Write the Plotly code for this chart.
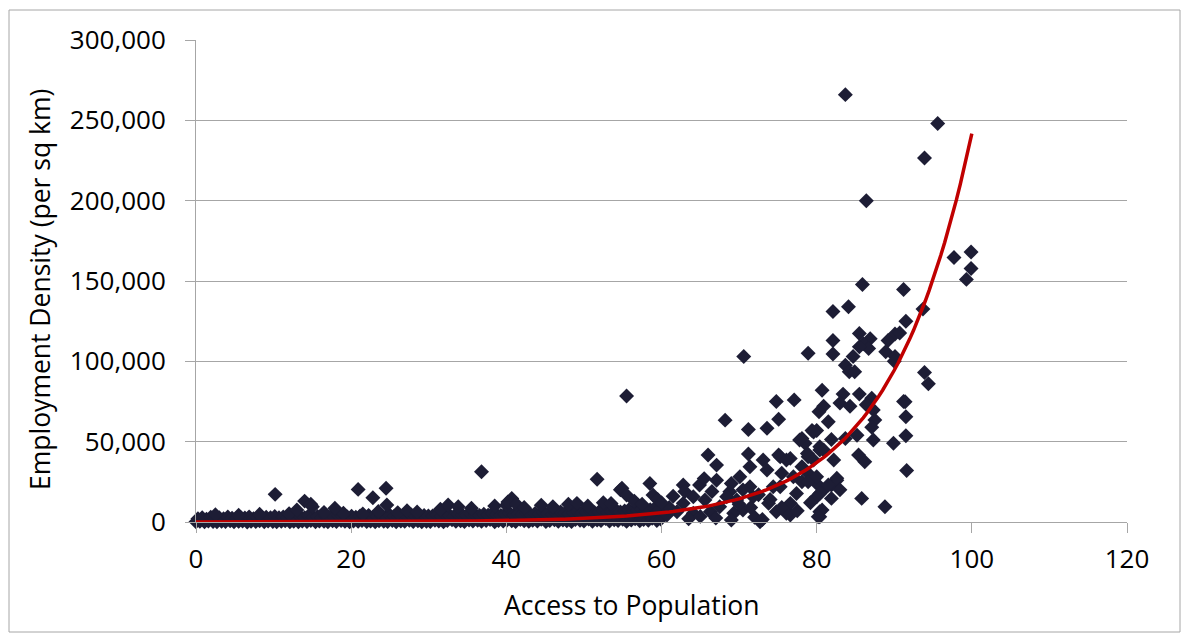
import plotly.graph_objects as go
import numpy as np

# ---------------- data ----------------
# dense band of points near zero, lower row
band_low_x = [0, 0.5, 1.1, 1.6, 2.2, 2.7, 3.3, 3.8, 4.4, 4.9, 5.5, 6.0, 6.6, 7.1, 7.7, 8.2, 8.8, 9.3, 9.9,
              10.4, 11.0, 11.5, 12.1, 12.6, 13.2, 13.7, 14.3, 14.8, 15.4, 15.9, 16.5, 17.0, 17.6, 18.1, 18.7,
              19.2, 19.8, 20.3, 20.9, 21.4, 22.0, 22.5, 23.1, 23.6, 24.2, 24.7, 25.3, 25.8, 26.4, 26.9, 27.5,
              28.0, 28.6, 29.1, 29.7,
              30.2, 30.8, 31.3, 31.9, 32.4, 33.0, 33.5, 34.1, 34.6, 35.2, 35.7, 36.3, 36.8, 37.4, 37.9, 38.5,
              39.0, 39.6, 40.1, 40.7, 41.2, 41.8, 42.3, 42.9, 43.4, 44.0, 44.5, 45.1, 45.6, 46.2, 46.7, 47.3,
              47.8, 48.4, 48.9, 49.5, 50.0, 50.6, 51.1, 51.7, 52.2, 52.8, 53.3, 53.9, 54.4, 55.0, 55.5, 56.1,
              56.6, 57.2, 57.7, 58.3, 58.8, 59.4, 59.9]
band_low_y = [150, 420, 80, 610, 300, 90, 520, 240, 700, 130, 380, 560, 60, 450, 290, 820, 170, 640, 330,
              90, 510, 760, 220, 430, 140, 680, 350, 910, 200, 560, 410, 120, 730, 290, 850, 460, 180, 620,
              390, 980, 250, 540, 110, 770, 430, 320, 880, 160, 600, 470, 1020, 280, 690, 140, 520,
              340, 1150, 620, 180, 900, 1420, 470, 760, 260, 1300, 580, 1050, 390, 860, 1600, 210, 980, 540,
              1250, 720, 310, 1480, 830, 450, 1100, 660, 1750, 290, 940, 1380, 510, 1200, 800, 360, 1550,
              1020, 620, 1850, 430, 1300, 950, 2100, 560, 1450, 870, 1700, 380, 1250, 2000, 740, 1600, 1100,
              2300, 900, 1800]

# dense band, upper row
band_high_x = [0.25, 0.8, 1.35, 1.9, 2.45, 3.0, 3.55, 4.1, 4.65, 5.2, 5.75, 6.3, 6.85, 7.4, 7.95, 8.5, 9.05,
               9.6, 10.15, 10.7, 11.25, 11.8, 12.35, 12.9, 13.45, 14.0, 14.55, 15.1, 15.65, 16.2, 16.75, 17.3,
               17.85, 18.4, 18.95, 19.5, 20.05, 20.6, 21.15, 21.7, 22.25, 22.8, 23.35, 23.9, 24.45, 25.0,
               25.55, 26.1, 26.65, 27.2, 27.75, 28.3, 28.85, 29.4, 29.95,
               30.5, 31.05, 31.6, 32.15, 32.7, 33.25, 33.8, 34.35, 34.9, 35.45, 36.0, 36.55, 37.1, 37.65,
               38.2, 38.75, 39.3, 39.85, 40.4, 40.95, 41.5, 42.05, 42.6, 43.15, 43.7, 44.25, 44.8, 45.35,
               45.9, 46.45, 47.0, 47.55, 48.1, 48.65, 49.2, 49.75, 50.3, 50.85, 51.4, 51.95, 52.5, 53.05,
               53.6, 54.15, 54.7, 55.25, 55.8, 56.35, 56.9, 57.45, 58.0, 58.55, 59.1, 59.65]
band_high_y = [2000, 2600, 1800, 2900, 2200, 2700, 2000, 3100, 2400, 2200, 2800, 2500, 3200, 2100, 2700,
               2300, 3000, 2600, 3400, 2700, 3100, 2500, 3600, 2800, 3300, 2600, 4000, 3000, 3400, 2700,
               3700, 3200, 2900, 3900, 3400, 3100, 3600, 2900, 3800, 3300, 4100, 3000, 3500, 3800, 3200,
               4200, 3600, 3300, 3900, 3500, 4400, 3700, 3400, 4000, 3800,
               3800, 4400, 3500, 4700, 4100, 3600, 4900, 4300, 3900, 5200, 4500, 4000, 4800, 4200, 5400,
               4600, 4100, 5000, 5600, 4400, 5100, 4700, 5800, 4500, 5300, 4900, 6000, 5200, 4700, 5600,
               6200, 5400, 5000, 5900, 6600, 5500, 6100, 6800, 5700, 6400, 7000, 5900, 6600, 7400, 6200,
               6900, 7600, 6500, 7200, 8000, 6800, 7600, 8400, 7400]

# scattered points
spread_x = [2.5, 5.5, 8.2, 12.0, 16.5, 19.0, 21.5, 23.5, 26.0, 27.2, 28.5,
            10.2, 14.0, 14.8, 15.0, 20.9, 22.8, 24.5, 17.9, 24.6, 13.0,
            31.5, 32.5, 33.8, 35.5, 36.8, 38.5, 40.0, 40.7, 40.2, 41.3, 42.3, 44.5, 46.0, 48.0, 49.1,
            50.5, 51.7, 52.5, 53.5, 54.7, 54.9, 55.5, 55.5, 56.5, 57.5, 58.5, 58.9, 59.5,
            70.6, 74.8, 77.1, 68.2, 75.1, 71.2, 73.6, 80.0, 78.1, 66.0, 67.1, 67.1, 62.8, 64.9, 71.2,
            73.1, 75.1, 76.6, 71.4, 73.6, 70.1, 68.8, 71.4, 75.5, 78.9, 78.9, 80.4, 80.9, 80.4, 76.6,
            74.8, 72.7, 70.5, 69.3, 67.5, 65.6, 64.1, 62.8, 62.0, 60.7, 68.4, 77.4, 76.6, 73.8, 71.8,
            69.7, 66.3, 64.1, 78.1, 80.0, 74.4, 78.5,
            75.3, 77.8, 79.4, 78.8, 76.1, 78.1, 80.4, 75.3, 77.0, 78.9, 80.0, 76.1, 80.4, 81.9, 82.6,
            72.0, 73.0, 71.5, 63.5, 61.0, 65.0, 67.0, 69.0, 70.0, 72.5, 74.0, 75.5, 77.5, 79.2, 60.0,
            61.5, 63.0, 65.5, 66.5, 69.0, 70.5,
            97.7, 99.9, 99.9, 99.3, 85.9, 91.2, 82.1, 84.1, 93.7, 91.5, 85.5, 86.9, 86.0, 86.7, 85.5,
            82.1, 82.1, 90.1, 89.2, 88.9, 90.1, 78.9, 84.7, 83.7, 84.2, 84.9, 93.9, 94.4, 80.7, 83.4,
            85.5, 87.1, 91.2, 80.9, 83.0, 84.3, 86.4, 80.3, 87.3, 91.5, 81.5, 87.5, 87.1, 79.6, 81.9,
            83.7, 85.2, 87.3, 89.9, 91.5, 80.9, 82.2, 85.4, 86.2, 91.6, 80.0, 82.6, 81.5, 83.0, 80.4,
            85.8, 88.8, 81.9, 80.7, 80.2, 79.6,
            83.7, 95.6, 93.9, 86.4, 90.7, 91.4, 90.0]
spread_y = [4500, 4200, 4800, 5200, 6000, 5500, 5000, 6500, 5800, 7000, 6200,
            17200, 13000, 11000, 9500, 20300, 15100, 21000, 8500, 10600, 7500,
            8000, 10600, 9500, 8500, 31300, 10000, 10500, 14700, 12500, 11000, 9000, 10500, 9500, 11000, 11600,
            10000, 26600, 12000, 11500, 20000, 21000, 16800, 78400, 13000, 11000, 24000, 16800, 14000,
            103000, 75000, 76000, 63400, 64000, 57600, 58300, 57000, 52000, 41700, 35400, 26000, 23000,
            23000, 42300, 38600, 41700, 39600, 34400, 32300, 28200, 18800, 22000, 30300, 40600, 30300,
            46800, 20000, 6400, 4400, 6400, 200, 7500, 5400, 9500, 13700, 15700, 11600, 6400, 4400, 15700,
            17800, 11600, 11600, 15700, 13700, 6400, 5400, 25000, 24000, 22000, 49000,
            40600, 51000, 57000, 42700, 38600, 34400, 44800, 22000, 28200, 25000, 15700, 5400, 3300, 23000,
            26000,
            3000, 1500, 9000, 2000, 9000, 3500, 2500, 1200, 11000, 17000, 14000, 9000, 7000, 12000, 12000,
            16000, 19000, 27000, 19000, 24000, 20000,
            164600, 168000, 157800, 151000, 147800, 144700, 131000, 134000, 132500, 125000, 117300, 114000,
            111000, 108000, 109000, 113000, 104500, 117000, 113000, 106000, 103000, 105000, 103000, 97600,
            93500, 93500, 93000, 86000, 82000, 79600, 79600, 77000, 75000, 72000, 74000, 72000, 73000,
            68600, 69700, 65500, 62400, 63500, 59000, 56000, 51400, 52000, 54000, 51000, 49000, 53700,
            44800, 38600, 41700, 37500, 32000, 28200, 27200, 23000, 20000, 17800, 14700, 9500, 14700,
            7500, 3300, 38600,
            266000, 248000, 226600, 200000, 117600, 74800, 100000]

# exponential trend line y = A * exp(B * x), coefficients
TREND_A = 20.0
TREND_B = 0.094
TREND_X_MIN = 0
TREND_X_MAX = 100

x_ticks = [0, 20, 40, 60, 80, 100, 120]
y_ticks = [0, 50000, 100000, 150000, 200000, 250000, 300000]

# ---------------- figure ----------------
all_x = band_low_x + band_high_x + spread_x
all_y = band_low_y + band_high_y + spread_y

trend_x = np.linspace(TREND_X_MIN, TREND_X_MAX, 201)
trend_y = TREND_A * np.exp(TREND_B * trend_x)

FONT = "Open Sans"
FS = 26
FT = 26.5
GRID = "#a6a6a6"

fig = go.Figure()
fig.add_trace(go.Scatter(
    x=all_x, y=all_y, mode="markers",
    marker=dict(symbol="diamond", size=11.5, color="#1d1d35", line=dict(width=0)),
    cliponaxis=False, showlegend=False, hoverinfo="x+y"))
fig.add_trace(go.Scatter(
    x=trend_x, y=trend_y, mode="lines",
    line=dict(color="#c00000", width=3.5), showlegend=False, hoverinfo="skip"))

W, H = 1189, 637
L, R, T, B = 196, 62, 40, 115
pw, ph = W - L - R, H - T - B

def px_to_paper_x(px):
    return (px - L) / pw

def px_to_paper_y(py):
    return (H - B - py) / ph

fig.update_layout(
    width=W, height=H,
    margin=dict(l=L, r=R, t=T, b=B, pad=0),
    paper_bgcolor="white", plot_bgcolor="white",
    font=dict(family=FONT, size=FS, color="#000000"),
    xaxis=dict(
        range=[0, 120], tickvals=x_ticks, ticktext=[str(v) for v in x_ticks],
        showgrid=False, zeroline=False,
        showline=True, linecolor=GRID, linewidth=1,
        ticks="outside", ticklen=10, tickcolor=GRID, tickwidth=1,
        ticklabelstandoff=4,
        tickfont=dict(family=FONT, size=FS, color="#000"),
    ),
    yaxis=dict(
        range=[0, 300000], tickvals=y_ticks, tickformat=",",
        showgrid=True, gridcolor=GRID, gridwidth=1, zeroline=False,
        showline=True, linecolor=GRID, linewidth=1,
        ticks="outside", ticklen=10, tickcolor=GRID, tickwidth=1,
        ticklabelstandoff=14,
        tickfont=dict(family=FONT, size=FS, color="#000"),
    ),
    annotations=[
        dict(text="Access to Population", xref="paper", yref="paper",
             x=px_to_paper_x(632), y=px_to_paper_y(605), xanchor="center", yanchor="middle",
             showarrow=False, font=dict(family=FONT, size=FT, color="#000")),
        dict(text="Employment Density (per sq km)", xref="paper", yref="paper",
             x=px_to_paper_x(40), y=px_to_paper_y(290), xanchor="center", yanchor="middle",
             textangle=-90, showarrow=False, font=dict(family=FONT, size=FT, color="#000")),
    ],
)

# outer chart border
fig.add_shape(type="rect", xref="paper", yref="paper",
              x0=px_to_paper_x(9), x1=px_to_paper_x(1180),
              y0=px_to_paper_y(632), y1=px_to_paper_y(10),
              line=dict(color=GRID, width=1), fillcolor="rgba(0,0,0,0)", layer="below")

fig.write_html("out.html")
